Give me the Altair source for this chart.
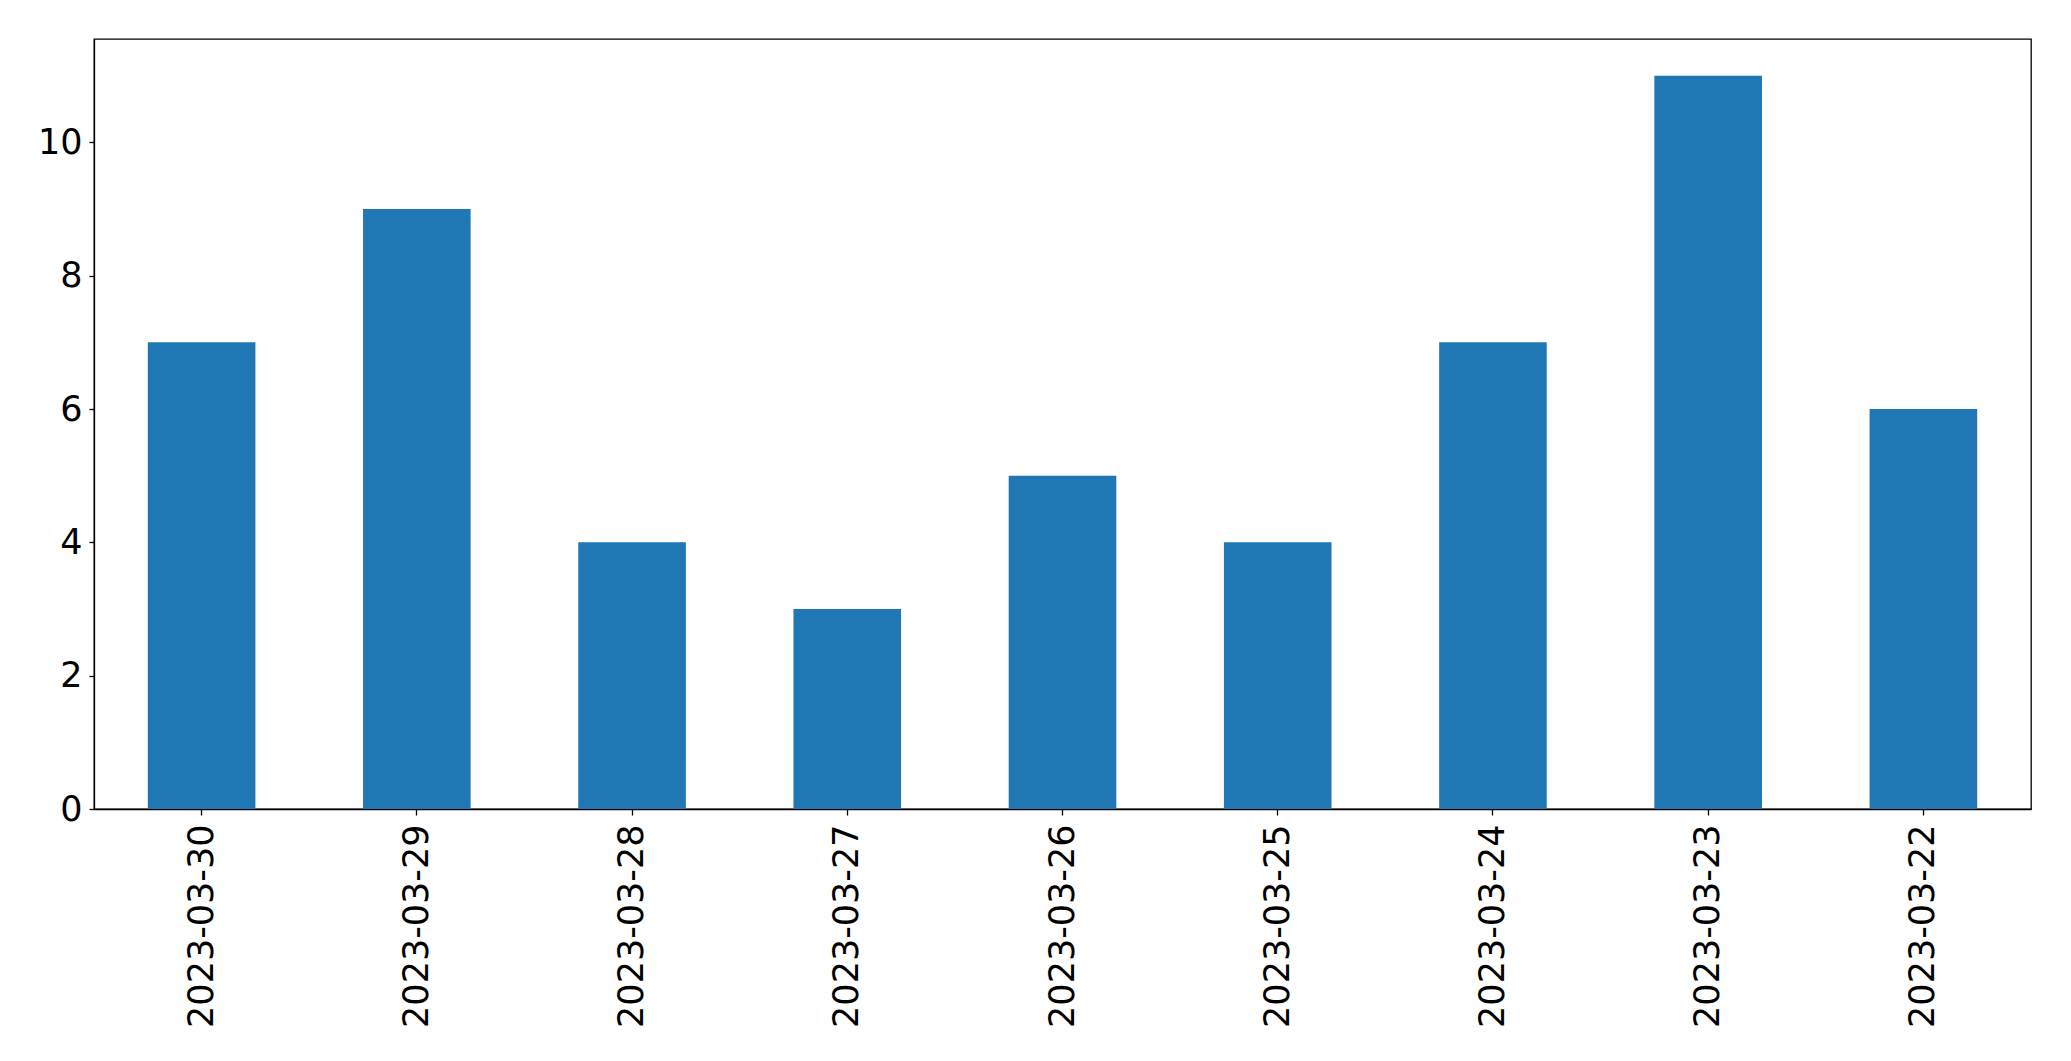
import altair as alt
import pandas as pd

dates = ["2023-03-30", "2023-03-29", "2023-03-28", "2023-03-27", "2023-03-26",
         "2023-03-25", "2023-03-24", "2023-03-23", "2023-03-22"]
counts = [7, 9, 4, 3, 5, 4, 7, 11, 6]
y_ticks = [0, 2, 4, 6, 8, 10]

df = pd.DataFrame({"date": dates, "count": counts})

chart = alt.Chart(df).mark_bar(color="#1f77b4").encode(
    x=alt.X("date:N", sort=dates, title=None,
            scale=alt.Scale(paddingInner=0.5, paddingOuter=0.25),
            axis=alt.Axis(labelAngle=-90, labelFontSize=35, labelFont="DejaVu Sans",
                          labelColor="black", labelPadding=9, tickSize=6, tickWidth=1.3,
                          tickColor="black", domainColor="black", domainWidth=1.3,
                          labelBaseline="middle", labelAlign="right", labelLimit=1000)),
    y=alt.Y("count:Q", title=None,
            scale=alt.Scale(domain=[0, 11.55], nice=False, zero=True),
            axis=alt.Axis(values=y_ticks, labelFontSize=35, labelFont="DejaVu Sans",
                          labelColor="black", labelPadding=7, tickSize=5, tickWidth=1.3,
                          tickColor="black", domainColor="black", domainWidth=1.3,
                          grid=False)),
).properties(
    width=1937, height=770,
    autosize=alt.AutoSizeParams(type="none"),
    padding={"left": 86, "top": 31, "right": 30, "bottom": 240},
).configure(background="white").configure_view(stroke="black", strokeWidth=1.3)

chart.save("out.html", embed_options={"renderer": "svg", "actions": False})
